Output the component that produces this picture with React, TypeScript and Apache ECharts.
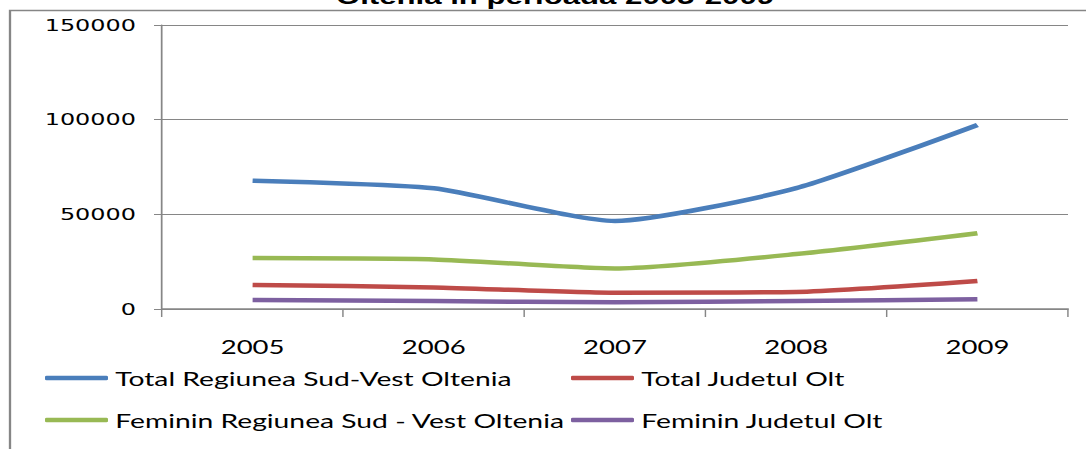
import React, { useEffect, useRef } from "react";
import * as echarts from "echarts";

const years = ["2005", "2006", "2007", "2008", "2009"];
const yTicks = [0, 50000, 100000, 150000];
const totalRegiune = [67800, 63800, 46500, 63800, 97200];
const totalOlt = [12700, 11400, 8600, 9000, 14800];
const femininRegiune = [26900, 26200, 21400, 29000, 40000];
const femininOlt = [4700, 4200, 3500, 4200, 5100];
const seriesNames = [
  "Total Regiunea Sud-Vest Oltenia",
  "Total Judetul Olt",
  "Feminin Regiunea Sud - Vest Oltenia",
  "Feminin Judetul Olt",
];
const colors = ["#4A7EBB", "#BE4B48", "#98B954", "#7D60A0"];
const titleText = "Oltenia in perioada 2005-2009";

const SX = 1.45;
const W = 1086 / SX;
const H = 449;
const px = (x: number) => x / SX;

const calibriLike = "Lato, 'Open Sans', 'Liberation Sans', sans-serif";

export default function App() {
  const ref = useRef<HTMLDivElement>(null);
  useEffect(() => {
    document.body.style.margin = "0";
    if (!ref.current) return;
    const chart = echarts.init(ref.current, null, { renderer: "svg", width: W, height: H });
    const data = [totalRegiune, totalOlt, femininRegiune, femininOlt];
    const legendPos = [
      { left: px(45), top: 367 },
      { left: px(571), top: 367 },
      { left: px(45), top: 409 },
      { left: px(571), top: 409 },
    ];
    chart.setOption({
      animation: false,
      backgroundColor: "#ffffff",
      grid: {
        left: px(162),
        right: W - px(1068),
        top: 25,
        bottom: H - 309,
        outerBoundsMode: "none",
      },
      xAxis: {
        type: "category",
        data: years,
        boundaryGap: true,
        axisLine: { show: true, lineStyle: { color: "#868686", width: 1.6 } },
        axisTick: { show: true, length: 8, inside: false, lineStyle: { color: "#868686", width: 1 } },
        axisLabel: { margin: 28, fontFamily: calibriLike, fontSize: 19, color: "#000" },
        splitLine: { show: false },
      },
      yAxis: {
        type: "value",
        min: yTicks[0],
        max: yTicks[yTicks.length - 1],
        interval: yTicks[1] - yTicks[0],
        axisLine: { show: true, lineStyle: { color: "#868686", width: 1.2 } },
        axisTick: { show: true, length: px(8), lineStyle: { color: "#868686", width: 1 } },
        axisLabel: {
          margin: px(26),
          fontFamily: "'DejaVu Sans', Verdana, sans-serif",
          fontSize: 16.5,
          color: "#000",
          formatter: (v: number) => String(v),
        },
        splitLine: { show: true, lineStyle: { color: "#868686", width: 1.2 } },
      },
      legend: seriesNames.map((n, i) => ({
        data: [n],
        left: legendPos[i].left,
        top: legendPos[i].top,
        orient: "horizontal",
        icon: "roundRect",
        itemWidth: px(63),
        itemHeight: 4.5,
        padding: 0,
        textStyle: { fontFamily: calibriLike, fontSize: 19.5, color: "#000", lineHeight: 22 },
      })),
      graphic: [
        {
          type: "rect",
          shape: { x: px(10), y: 10.5, width: W + 20, height: H + 20 },
          style: { fill: "none", stroke: "#868686", lineWidth: 1.6 },
          silent: true,
        },
        {
          type: "text",
          x: px(555),
          y: 8,
          style: {
            text: titleText,
            fontFamily: "'Liberation Sans', Arial, sans-serif",
            fontWeight: "bold",
            fontSize: 21.5,
            fill: "#000",
            align: "center",
            verticalAlign: "bottom",
          },
          silent: true,
        },
      ],
      series: seriesNames.map((n, i) => ({
        name: n,
        type: "line",
        data: data[i],
        smooth: 0.2,
        symbol: "none",
        showSymbol: false,
        lineStyle: { color: colors[i], width: 4.5 },
        itemStyle: { color: colors[i] },
        z: 10 - i,
      })),
    });
    return () => chart.dispose();
  }, []);
  return (
    <div style={{ width: 1086, height: 449, overflow: "hidden", position: "relative" }}>
      <div
        ref={ref}
        style={{
          width: W,
          height: H,
          transform: `scaleX(${SX})`,
          transformOrigin: "0 0",
          position: "absolute",
          left: 0,
          top: 0,
        }}
      />
    </div>
  );
}
